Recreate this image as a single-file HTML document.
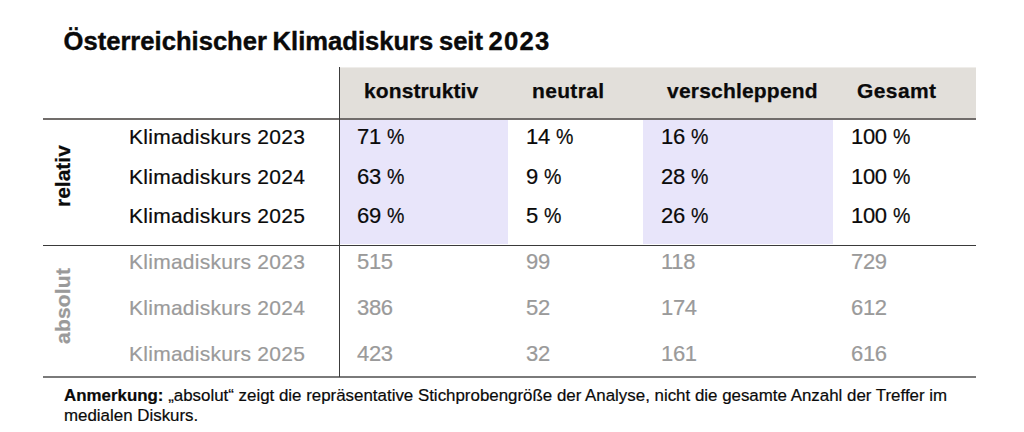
<!DOCTYPE html>
<html>
<head>
<meta charset="utf-8">
<style>
html,body{margin:0;padding:0;background:#fff;}
body{width:1024px;height:432px;position:relative;overflow:hidden;font-family:"Liberation Sans",sans-serif;color:#0a0a0a;}
.a{position:absolute;white-space:nowrap;line-height:1;}
.title{left:63.5px;top:29.3px;font-size:25.6px;font-weight:700;word-spacing:-1.5px;-webkit-text-stroke:0.4px #0a0a0a;}
.hbg{position:absolute;left:340px;top:68px;width:636px;height:51px;background:#e2dfda;}
.pbg{position:absolute;top:120px;height:124px;background:#e8e5fa;}
.vl{position:absolute;left:339px;top:67px;width:1px;height:310px;background:#3c3c3c;}
.hl{position:absolute;left:43px;width:933px;background:#444;}
.h{font-size:21px;font-weight:700;top:80px;-webkit-text-stroke:0.25px #0a0a0a;}
.r{font-size:21px;letter-spacing:0.27px;-webkit-text-stroke:0.2px currentColor;}
.n{font-size:22px;letter-spacing:-0.3px;-webkit-text-stroke:0.2px currentColor;}
.g{color:#9a9a9a;}
.p{display:inline-block;transform:scaleX(0.89);transform-origin:0 50%;}
.rot{position:absolute;font-weight:700;font-size:21px;line-height:1;white-space:nowrap;transform-origin:0 0;transform:rotate(-90deg);-webkit-text-stroke:0.25px currentColor;}
.foot{left:64px;top:386px;font-size:16.9px;-webkit-text-stroke:0.2px #0a0a0a;line-height:20.4px;white-space:normal;width:940px;}
</style>
</head>
<body>
<div class="a title">Österreichischer Klimadiskurs seit <span style="letter-spacing:1.2px">2023</span></div>

<div class="hbg"></div>
<div style="position:absolute;left:340px;top:67px;width:636px;height:1px;background:#efedea;"></div>
<div class="pbg" style="left:340px;width:168px;"></div>
<div class="pbg" style="left:643px;width:190px;"></div>

<div class="hl" style="top:118px;height:2px;background:#716d6b;"></div>
<div class="hl" style="top:245px;height:1px;background:#3a3a3a;"></div>
<div class="hl" style="top:376px;height:2px;background:#7a7a7a;"></div>
<div class="vl"></div>

<div class="a h" style="left:364px;letter-spacing:0.1px;">konstruktiv</div>
<div class="a h" style="left:532px;letter-spacing:0.33px;">neutral</div>
<div class="a h" style="left:667px;letter-spacing:0.2px;">verschleppend</div>
<div class="a h" style="left:857px;letter-spacing:0.4px;">Gesamt</div>

<div class="rot" style="left:51.5px;top:206.5px;">relativ</div>
<div class="rot g" style="left:51.5px;top:343.5px;letter-spacing:0.2px;">absolut</div>

<!-- relative rows -->
<div class="a r" style="left:129px;top:125.9px;">Klimadiskurs 2023</div>
<div class="a r" style="left:129px;top:165.9px;">Klimadiskurs 2024</div>
<div class="a r" style="left:129px;top:205.0px;">Klimadiskurs 2025</div>

<div class="a n" style="left:357px;top:125.7px;">71 <span class="p">%</span></div>
<div class="a n" style="left:357px;top:165.7px;">63 <span class="p">%</span></div>
<div class="a n" style="left:357px;top:204.8px;">69 <span class="p">%</span></div>

<div class="a n" style="left:526px;top:125.7px;">14 <span class="p">%</span></div>
<div class="a n" style="left:526px;top:165.7px;">9 <span class="p">%</span></div>
<div class="a n" style="left:526px;top:204.8px;">5 <span class="p">%</span></div>

<div class="a n" style="left:661px;top:125.7px;">16 <span class="p">%</span></div>
<div class="a n" style="left:661px;top:165.7px;">28 <span class="p">%</span></div>
<div class="a n" style="left:661px;top:204.8px;">26 <span class="p">%</span></div>

<div class="a n" style="left:851px;top:125.7px;">100 <span class="p">%</span></div>
<div class="a n" style="left:851px;top:165.7px;">100 <span class="p">%</span></div>
<div class="a n" style="left:851px;top:204.8px;">100 <span class="p">%</span></div>

<!-- absolute rows -->
<div class="a r g" style="left:129px;top:250.8px;">Klimadiskurs 2023</div>
<div class="a r g" style="left:129px;top:296.5px;">Klimadiskurs 2024</div>
<div class="a r g" style="left:129px;top:342.5px;">Klimadiskurs 2025</div>

<div class="a n g" style="left:357px;top:251.2px;">515</div>
<div class="a n g" style="left:357px;top:296.9px;">386</div>
<div class="a n g" style="left:357px;top:342.9px;">423</div>

<div class="a n g" style="left:526px;top:251.2px;">99</div>
<div class="a n g" style="left:526px;top:296.9px;">52</div>
<div class="a n g" style="left:526px;top:342.9px;">32</div>

<div class="a n g" style="left:661px;top:251.2px;">118</div>
<div class="a n g" style="left:661px;top:296.9px;">174</div>
<div class="a n g" style="left:661px;top:342.9px;">161</div>

<div class="a n g" style="left:851px;top:251.2px;">729</div>
<div class="a n g" style="left:851px;top:296.9px;">612</div>
<div class="a n g" style="left:851px;top:342.9px;">616</div>

<div class="a foot"><b>Anmerkung:</b> „absolut“ zeigt die repräsentative Stichprobengröße der Analyse, nicht die gesamte Anzahl der Treffer im medialen Diskurs.</div>
</body>
</html>
